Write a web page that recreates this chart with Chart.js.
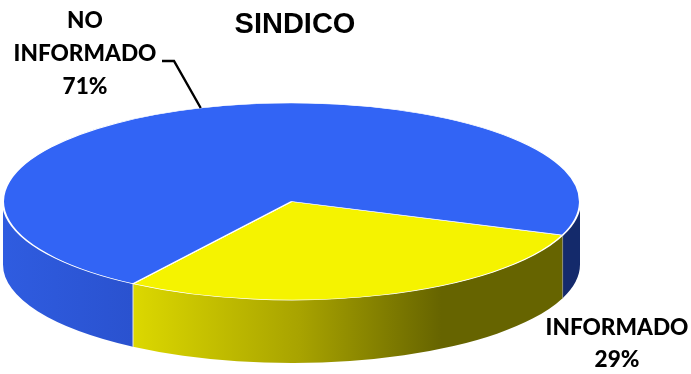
<!DOCTYPE html>
<html>
<head>
<meta charset="utf-8">
<title>SINDICO</title>
<script src="https://cdn.jsdelivr.net/npm/chart.js@4/dist/chart.umd.min.js"></script>
<style>
  html, body { margin: 0; padding: 0; background: #fff; }
  canvas { display: block; }
</style>
</head>
<body>
<canvas id="js-chart-sindico" width="691" height="374"></canvas>
<script>
// Chart data
const chartTitle = 'SINDICO';
const categories = ['INFORMADO', 'NO INFORMADO'];
const values = [28.7, 71.3];
const labelLines = [['INFORMADO'], ['NO', 'INFORMADO']];
const sliceColors = ['#f5f300', '#3264f5'];

// Ellipse of the top face and height of the side wall
const pie3d = {cx: 291.5, cy: 201.5, rx: 288.5, ry: 98.5, depth: 63};

// Side wall shading, stops run across the full width of the pie
const wallStops = [
  [[0, '#e6e200'], [0.225, '#dcd800'], [0.514, '#a8a300'], [0.76, '#666400'], [1, '#666400']],
  [[0, '#2f5ce0'], [0.225, '#2a52cf'], [0.9, '#142a6b'], [1, '#142a6b']]
];

// Where the slice labels go
const labelPos = [
  {x: 617, y: 328, lineHeight: 32},
  {x: 85, y: 21, lineHeight: 33}
];

// Visible part of a slice wall, the front half of the ellipse only
function drawWall(ctx, start, end, fill) {
  [0, Math.PI * 2].forEach(function (offset) {
    let a0 = Math.max(start, offset);
    let a1 = Math.min(end, offset + Math.PI);
    if (a1 <= a0) return;

    ctx.beginPath();
    ctx.ellipse(pie3d.cx, pie3d.cy, pie3d.rx, pie3d.ry, 0, a0, a1);
    ctx.ellipse(pie3d.cx, pie3d.cy + pie3d.depth, pie3d.rx, pie3d.ry, 0, a1, a0, true);
    ctx.closePath();
    ctx.fillStyle = fill;
    ctx.fill();
  });
}

// Chart.js only draws a round pie, this squashes it and adds the wall
const pie3dPlugin = {
  id: 'pie3d',
  beforeDatasetsDraw(chart) {
    let ctx = chart.ctx;
    let arcs = chart.getDatasetMeta(0).data;

    arcs.forEach(function (arc, i) {
      let grad = ctx.createLinearGradient(pie3d.cx - pie3d.rx, 0, pie3d.cx + pie3d.rx, 0);
      wallStops[i].forEach(function (stop) {
        grad.addColorStop(stop[0], stop[1]);
      });
      drawWall(ctx, arc.startAngle, arc.endAngle, grad);
    });

    // Seams between the walls
    arcs.forEach(function (arc, i) {
      let x = pie3d.cx + pie3d.rx * Math.cos(arc.startAngle);
      let y = pie3d.cy + pie3d.ry * Math.sin(arc.startAngle);
      ctx.beginPath();
      ctx.moveTo(x, y);
      ctx.lineTo(x, y + pie3d.depth);
      ctx.strokeStyle = i === 0 ? '#8f8f70' : '#e8e8e8';
      ctx.lineWidth = 1;
      ctx.stroke();
    });

    let arc = arcs[0];
    ctx.save();
    ctx.translate(pie3d.cx, pie3d.cy);
    ctx.scale(pie3d.rx / arc.outerRadius, pie3d.ry / arc.outerRadius);
    ctx.translate(-arc.x, -arc.y);
  },
  afterDatasetsDraw(chart) {
    chart.ctx.restore();
  },
  afterDraw(chart) {
    let ctx = chart.ctx;

    // Slice labels
    ctx.save();
    ctx.fillStyle = '#000';
    ctx.font = '900 22.6px Lato, sans-serif';
    ctx.textAlign = 'center';
    ctx.textBaseline = 'middle';
    categories.forEach(function (name, i) {
      let lines = labelLines[i].concat(Math.round(values[i]) + '%');
      lines.forEach(function (line, n) {
        ctx.fillText(line, labelPos[i].x, labelPos[i].y + n * labelPos[i].lineHeight);
      });
    });

    // Leader line of the big slice
    let arc = chart.getDatasetMeta(0).data[1];
    let mid = (arc.startAngle + arc.endAngle) / 2;
    ctx.beginPath();
    ctx.moveTo(162, 61);
    ctx.lineTo(174, 61);
    ctx.lineTo(pie3d.cx + pie3d.rx * Math.cos(mid), pie3d.cy + pie3d.ry * Math.sin(mid));
    ctx.strokeStyle = '#000';
    ctx.lineWidth = 2.4;
    ctx.stroke();
    ctx.restore();
  }
};

new Chart(document.getElementById('js-chart-sindico'), {
  type: 'pie',
  data: {
    labels: categories,
    datasets: [{
      data: values,
      backgroundColor: sliceColors,
      borderColor: '#fff',
      borderWidth: 1.2,
      clip: false
    }]
  },
  options: {
    responsive: false,
    animation: false,
    rotation: 110,
    layout: {padding: {right: 101}},
    plugins: {
      legend: {display: false},
      tooltip: {enabled: false},
      title: {
        display: true,
        text: chartTitle,
        fullSize: false,
        color: '#000',
        font: {family: '"Liberation Sans", Arial, sans-serif', size: 29, weight: 'bold'},
        padding: {top: 8, bottom: 4}
      }
    }
  },
  plugins: [pie3dPlugin]
});
</script>
</body>
</html>
